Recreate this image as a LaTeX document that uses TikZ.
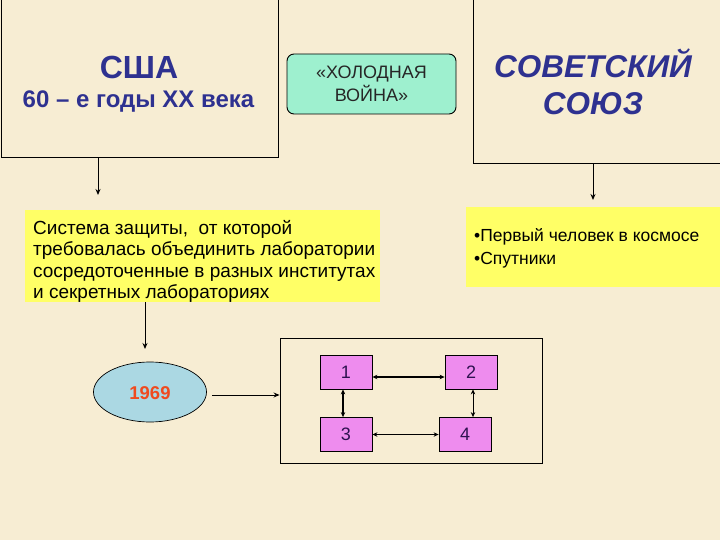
\documentclass[tikz,border=0pt]{standalone}
\usepackage{fontspec}
\setmainfont{Liberation Sans}
\usetikzlibrary{arrows.meta,shapes.geometric,calc}
\definecolor{bgc}{HTML}{F7EDD3}
\definecolor{dblue}{HTML}{2E3190}
\definecolor{cwfill}{HTML}{9EF0CF}
\definecolor{ylw}{HTML}{FFFF66}
\definecolor{elfill}{HTML}{ABD8E3}
\definecolor{sqfill}{HTML}{EE8CEE}
\definecolor{numc}{HTML}{2E1250}
\definecolor{orng}{HTML}{F04A1E}
\begin{document}
\begin{tikzpicture}[x=1pt,y=-1pt,
  bigbox/.style={draw=black,line width=0.9pt,inner sep=0pt},
  ybox/.style={fill=ylw,inner sep=0pt},
  sq/.style={draw=black,line width=0.8pt,fill=sqfill,minimum width=52pt,minimum height=34pt,inner sep=0pt,font=\fontsize{18}{20}\selectfont,text=numc},
  arr/.style={-{Stealth[length=6pt,width=5pt]},line width=1pt},
  darr/.style={{Stealth[length=5pt,width=4.5pt]}-{Stealth[length=5pt,width=4.5pt]},line width=1pt},
  darrt/.style={darr,line width=1.8pt},
  ylwtext/.style={align=left,inner sep=0pt,anchor=west}
]
\useasboundingbox (0,0) rectangle (720,540);
\fill[bgc] (0,0) rectangle (720,540);

% top boxes
\node[bigbox,minimum width=277pt,minimum height=159pt] (usa) at (139.5,77.5) {};
\node[font=\bfseries\fontsize{32}{34}\selectfont,text=dblue] (usat) at (139,67) {США};
\node[font=\bfseries\fontsize{24}{26}\selectfont,text=dblue] (usad) at (138.5,102) {60 – е годы XX века};

\node[bigbox,minimum width=250pt,minimum height=166pt] (ussr) at (598,80) {};
\node[font=\bfseries\itshape\fontsize{31.5}{37}\selectfont,text=dblue,align=center] (ussrt) at (593,82) {СОВЕТСКИЙ\\СОЮЗ};

\node[draw=black,line width=0.9pt,fill=cwfill,rounded corners=7pt,minimum width=169pt,minimum height=60pt,align=center,font=\fontsize{18}{22.5}\selectfont,text=black!85] (cw) at (371.5,84) {«ХОЛОДНАЯ\\ВОЙНА»};

% yellow boxes
\node[ybox,minimum width=355pt,minimum height=92pt] (yl) at (202.5,256) {};
\node[ylwtext,font=\fontsize{19}{21.2}\selectfont] (ylt) at (33,261.5) {Система защиты,~ от которой\\требовалась объединить лаборатории\\сосредоточенные в разных институтах\\и секретных лабораториях};

\node[ybox,minimum width=256pt,minimum height=80pt] (yr) at (594,247) {};
\node[ylwtext,font=\fontsize{17.5}{23}\selectfont] (yrt) at (474,248.5) {•Первый человек в космосе\\•Спутники};

% arrows from top boxes
\coordinate (a1e) at (98,195);
\draw[arr] (usa.south -| a1e) -- (a1e);
\coordinate (a2e) at (593,200);
\draw[arr] (ussr.south -| a2e) -- (a2e);
\coordinate (a3e) at (145,349);
\draw[arr] (yl.south -| a3e) -- (a3e);

% ellipse
\node[ellipse,draw=black,line width=0.7pt,fill=elfill,minimum width=113pt,minimum height=60pt,inner sep=0pt] (el) at (150,392) {};
\node[font=\bfseries\fontsize{18.5}{20}\selectfont,text=orng] (elt) at (150,393) {1969};

% network box
\node[draw=black,line width=0.9pt,minimum width=262pt,minimum height=125pt,inner sep=0pt] (net) at (411,400.5) {};
\coordinate (a4s) at (212,395);
\draw[arr] (a4s) -- (a4s -| net.west);

\node[sq] (s1) at (346,372) {1};
\node[sq] (s2) at (471,372) {2};
\node[sq] (s3) at (346,434.5) {3};
\node[sq] (s4) at (465,434.5) {4};

\draw[darrt] ([yshift=-5pt]s1.east) -- ([yshift=-5pt]s2.west);
\draw[darrt] ([xshift=-3pt]s1.south) -- ([xshift=-3pt]s3.north);
\draw[darr] ([xshift=2pt]s2.south) -- ([xshift=2pt]s2.south |- s4.north);
\draw[darr] (s3.east) -- (s4.west);
\end{tikzpicture}
\end{document}
